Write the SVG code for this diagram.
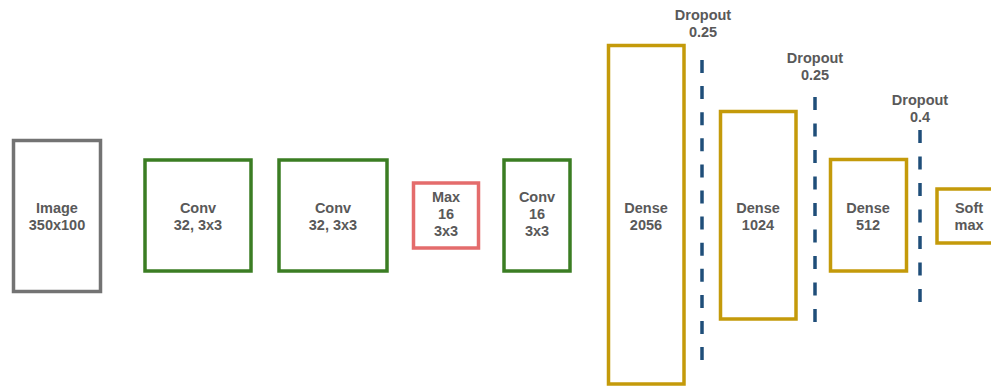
<svg xmlns="http://www.w3.org/2000/svg" width="991" height="387" viewBox="0 0 991 387">
<style>
.box{fill:#fff;stroke-width:3.5;}
.img{stroke:#737373;}
.conv{stroke:#3b7d23;}
.max{stroke:#e46c6c;}
.dense{stroke:#c49a0a;}
.t{font-family:"Liberation Sans",Arial,sans-serif;font-weight:bold;font-size:14.5px;fill:#595959;text-anchor:middle;}
.drop{stroke:#1f4e79;stroke-width:3.5;fill:none;}
</style>
<rect width="991" height="387" fill="#fff"/>
<g id="image"><rect class="box img" x="13.5" y="140.5" width="87" height="151"/><text class="t" x="57" y="213">Image</text><text class="t" x="57" y="230">350x100</text></g>
<g id="conv1"><rect class="box conv" x="145" y="160" width="106" height="111"/><text class="t" x="198" y="213">Conv</text><text class="t" x="198" y="230">32, 3x3</text></g>
<g id="conv2"><rect class="box conv" x="279" y="160" width="108" height="111"/><text class="t" x="333" y="213">Conv</text><text class="t" x="333" y="230">32, 3x3</text></g>
<g id="max"><rect class="box max" x="413.5" y="183" width="65" height="65"/><text class="t" x="446" y="202">Max</text><text class="t" x="446" y="219">16</text><text class="t" x="446" y="236">3x3</text></g>
<g id="conv3"><rect class="box conv" x="504" y="160" width="66" height="111"/><text class="t" x="537" y="202">Conv</text><text class="t" x="537" y="219">16</text><text class="t" x="537" y="236">3x3</text></g>
<g id="dense2056"><rect class="box dense" x="608.5" y="45.5" width="75.5" height="338.5"/><text class="t" x="646" y="213">Dense</text><text class="t" x="646" y="230">2056</text></g>
<g id="dense1024"><rect class="box dense" x="720.5" y="111.5" width="75.5" height="207.5"/><text class="t" x="758" y="213">Dense</text><text class="t" x="758" y="230">1024</text></g>
<g id="dense512"><rect class="box dense" x="830.5" y="159.5" width="76" height="111.5"/><text class="t" x="868" y="213">Dense</text><text class="t" x="868" y="230">512</text></g>
<g id="softmax"><rect class="box dense" x="937" y="189" width="66" height="54"/><text class="t" x="969" y="213">Soft</text><text class="t" x="969" y="230">max</text></g>
<g id="dropouts">
<line class="drop" x1="702" y1="60" x2="702" y2="360" stroke-dasharray="13 13.1"/>
<text class="t" x="703" y="20">Dropout</text><text class="t" x="703" y="37">0.25</text>
<line class="drop" x1="815" y1="97" x2="815" y2="322" stroke-dasharray="13 13.5"/>
<text class="t" x="815" y="63">Dropout</text><text class="t" x="815" y="80">0.25</text>
<line class="drop" x1="920" y1="130" x2="920" y2="302" stroke-dasharray="13 13.5"/>
<text class="t" x="920" y="105">Dropout</text><text class="t" x="920" y="122">0.4</text>
</g>
<g id="connectors"></g>
</svg>
